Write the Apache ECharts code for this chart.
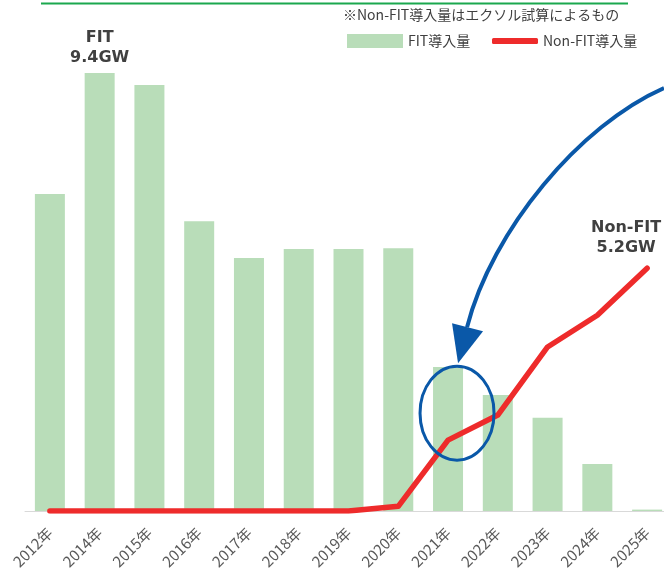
<!DOCTYPE html>
<html>
<head>
<meta charset="utf-8">
<script src="https://cdn.jsdelivr.net/npm/echarts@6/dist/echarts.min.js"></script>
<style>
  html, body { margin: 0; padding: 0; background: #fff; }
  #chart { width: 664px; height: 581px; }
</style>
</head>
<body>
<div id="chart"></div>
<script>
// 年
const years = ['2012年', '2014年', '2015年', '2016年', '2017年', '2018年', '2019年',
  '2020年', '2021年', '2022年', '2023年', '2024年', '2025年'];
// FIT導入量 (GW)
const fitValues = [6.80, 9.40, 9.14, 6.22, 5.43, 5.62, 5.62, 5.64, 3.09, 2.49, 2.00, 1.01, 0.03];
// Non-FIT導入量 (GW)
const nonFitValues = [0, 0, 0, 0, 0, 0, 0, 0.10, 1.52, 2.06, 3.52, 4.20, 5.21];

const fitPeak = 1;              // 2014年
const nonFitLast = years.length - 1;

const chart = echarts.init(document.getElementById('chart'));

const labelFont = 'DejaVu Sans';
const jpFont = '"Noto Sans CJK JP", "Noto Sans", sans-serif';

const option = {
  animation: false,
  title: {
    text: '※Non-FIT導入量はエクソル試算によるもの',
    left: 343,
    top: 8,
    padding: 0,
    textStyle: { fontFamily: jpFont, fontSize: 14, fontWeight: 'normal', color: '#404040' }
  },
  legend: [
    {
      data: [{ name: 'FIT導入量', icon: 'rect' }],
      left: 347,
      top: 34,
      padding: 0,
      itemWidth: 56,
      itemHeight: 14,
      textStyle: { fontFamily: jpFont, fontSize: 14, color: '#404040' }
    },
    {
      data: [{ name: 'Non-FIT導入量', icon: 'roundRect' }],
      left: 492,
      top: 34,
      padding: 0,
      itemWidth: 46,
      itemHeight: 6,
      textStyle: { fontFamily: jpFont, fontSize: 14, color: '#404040' }
    }
  ],
  grid: { left: 25, width: 647, top: 45, bottom: 70, outerBoundsMode: 'none', containLabel: false },
  xAxis: {
    type: 'category',
    data: years,
    axisLine: { lineStyle: { color: '#D9D9D9', width: 1 } },
    axisTick: { show: false },
    axisLabel: {
      rotate: 45,
      margin: 19,
      interval: 0,
      fontFamily: jpFont,
      fontSize: 15,
      color: '#595959'
    }
  },
  yAxis: { type: 'value', min: 0, max: 10, show: false },
  series: [
    {
      name: 'FIT導入量',
      type: 'bar',
      barWidth: 30,
      itemStyle: { color: '#B9DDB9' },
      data: fitValues.map((v, i) => i === fitPeak ? {
        value: v,
        label: {
          show: true,
          position: 'top',
          distance: 5,
          formatter: 'FIT\n9.4GW',
          fontFamily: labelFont,
          fontWeight: 'bold',
          fontSize: 16,
          lineHeight: 20,
          color: '#404040'
        }
      } : v)
    },
    {
      name: 'Non-FIT導入量',
      type: 'line',
      symbol: 'circle',
      symbolSize: 1,
      itemStyle: { color: '#EE2B2B' },
      lineStyle: { color: '#EE2B2B', width: 5.5, cap: 'round', join: 'round' },
      z: 3,
      data: nonFitValues.map((v, i) => i === nonFitLast ? {
        value: v,
        label: {
          show: true,
          position: 'top',
          distance: 10,
          offset: [-21, 0],
          formatter: 'Non-FIT\n5.2GW',
          fontFamily: labelFont,
          fontWeight: 'bold',
          fontSize: 16,
          lineHeight: 20,
          color: '#404040'
        }
      } : v)
    }
  ]
};

chart.setOption(option);

// 注目の円と矢印（2021年付近）
const c = chart.convertToPixel({ xAxisIndex: 0, yAxisIndex: 0 }, ['2021年', 2.1]);
const cx = c[0] + 9;
const cy = c[1];
const blue = '#0A58A8';
const tipX = cx + 1;
const tipY = cy - 50;

chart.setOption({
  graphic: [
    {
      type: 'line',
      shape: { x1: 41, y1: 3.5, x2: 628, y2: 3.5 },
      style: { stroke: '#1BA84E', lineWidth: 2 }
    },
    {
      type: 'ellipse',
      z: 100,
      shape: { cx: cx, cy: cy, rx: 37, ry: 47 },
      style: { fill: 'none', stroke: blue, lineWidth: 3 }
    },
    {
      type: 'bezierCurve',
      z: 100,
      shape: {
        x1: 664, y1: 88,
        cpx1: 580, cpy1: 125,
        cpx2: 492, cpy2: 230,
        x2: tipX + 9, y2: tipY - 36
      },
      style: { fill: 'none', stroke: blue, lineWidth: 4 }
    },
    {
      type: 'polygon',
      z: 100,
      shape: { points: [[tipX - 6, tipY - 40], [tipX + 25, tipY - 32], [tipX, tipY]] },
      style: { fill: blue }
    }
  ]
});
</script>
</body>
</html>
